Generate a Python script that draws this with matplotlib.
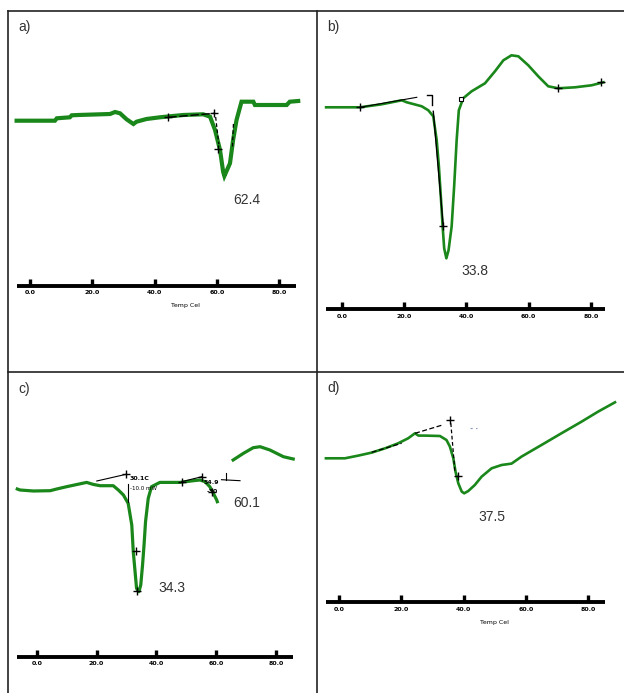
import matplotlib
matplotlib.use("Agg")
import matplotlib.pyplot as plt
from matplotlib.lines import Line2D

plt.rcParams['font.family'] = ['Liberation Sans', 'DejaVu Sans']

# DSC curves, temperature (C) vs heat flow (arbitrary units)
a_temp = [-4.3, 8.0, 8.6, 12.8, 13.4, 15.5, 25.7, 27.3, 28.9, 31.0, 33.2, 34.2, 37.4, 41.7, 49.2,
          55.6, 57.8, 59.4, 61.0, 62.0, 62.4, 64.2, 65.2, 66.3, 67.9, 71.7, 72.2, 82.4, 83.4, 86.1]
a_heat = [16.53, 16.53, 16.77, 16.87, 17.07, 17.10, 17.20, 17.40, 17.27, 16.67, 16.20, 16.43, 16.70, 16.87, 17.10,
          17.17, 16.93, 15.60, 13.60, 11.43, 11.00, 12.27, 14.60, 16.60, 18.43, 18.43, 18.10, 18.10, 18.43, 18.50]

b_temp = [-5.0, 5.9, 12.8, 19.3, 20.9, 25.7, 27.8, 29.4, 30.5, 31.2, 31.9, 32.4, 32.9, 33.6, 34.3, 35.3, 36.1,
          36.9, 37.6, 39.0, 41.7, 46.0, 49.2, 51.9, 54.5, 56.7, 59.9, 63.1, 66.3, 69.5, 74.9, 80.2, 84.0]
b_heat = [20.2, 20.2, 20.5, 20.9, 20.7, 20.3, 19.9, 19.3, 16.9, 14.3, 10.9, 8.3, 6.1, 5.1, 5.9, 8.3, 12.3,
          16.9, 19.9, 21.1, 21.8, 22.6, 23.8, 24.9, 25.4, 25.3, 24.4, 23.3, 22.3, 22.1, 22.2, 22.4, 22.7]

c_temp = [-6.5, -5.6, -1.1, 4.5, 6.7, 10.0, 16.7, 18.9, 21.2, 25.6, 27.3, 29.0, 30.6, 31.8, 32.3, 32.9, 33.4,
          34.2, 34.8, 35.4, 35.9, 36.4, 37.3, 38.4, 41.2, 47.9, 52.4, 54.6, 56.3, 57.9, 59.1, 60.2, 60.4]
c_heat = [16.77, 16.67, 16.57, 16.60, 16.77, 17.00, 17.43, 17.23, 17.10, 17.10, 16.67, 16.17, 15.33, 13.17, 10.50,
          8.50, 6.83, 6.50, 7.17, 9.17, 11.17, 13.50, 15.83, 17.00, 17.43, 17.43, 17.60, 17.67, 17.50, 17.00,
          16.33, 15.67, 15.50]
c2_temp = [65.7, 69.1, 72.4, 74.7, 78.0, 82.5, 85.8]
c2_heat = [19.67, 20.33, 20.90, 21.00, 20.67, 20.00, 19.77]

d_temp = [-4.2, 1.9, 6.2, 10.5, 14.8, 19.0, 22.2, 24.4, 25.5, 27.6, 32.4, 34.5, 35.6, 36.7, 37.4,
          38.3, 39.4, 40.2, 41.5, 43.6, 45.8, 49.0, 52.2, 55.4, 58.6, 65.0, 71.4, 77.9, 83.2, 88.6]
d_heat = [14.40, 14.40, 14.67, 14.97, 15.40, 15.90, 16.40, 16.90, 16.67, 16.67, 16.63, 16.23, 15.57, 14.40, 13.07,
          11.90, 11.07, 10.90, 11.13, 11.73, 12.57, 13.40, 13.73, 13.87, 14.57, 15.73, 16.90, 18.07, 19.07, 20.00]

# peak temperatures written next to the curves
a_peaks = ['62.4']
b_peaks = ['33.8']
c_peaks = ['34.3', '60.1']
d_peaks = ['37.5']

tick_vals = [0, 20, 40, 60, 80]
tick_labels = ['0.0', '20.0', '40.0', '60.0', '80.0']

W, H = 624, 693
GREEN = '#1a871a'
TXT = '#333333'
fig = plt.figure(figsize=(W / 100, H / 100), dpi=100)


def panel(cell, x0, ppd, axis_px, xspan):
    # cell = (left, top, right, bottom) in pixels; x0 = pixel of 0 C; ppd = pixels per degree
    l, t, r, b = cell
    ax = fig.add_axes([l / W, 1 - b / H, (r - l) / W, (b - t) / H])
    ax.set_xlim((l - x0) / ppd, (r - x0) / ppd)
    ax.set_ylim((axis_px - b) / 10, (axis_px - t) / 10)
    ax.patch.set_alpha(0)
    for s in ['top', 'left', 'right']:
        ax.spines[s].set_visible(False)
    sp = ax.spines['bottom']
    sp.set_position(('data', 0))
    sp.set_bounds(*xspan)
    sp.set_linewidth(2.8)
    sp.set_capstyle('butt')
    ax.set_yticks([])
    ax.set_xticks(tick_vals)
    ax.set_xticklabels(tick_labels, fontsize=4.5, fontweight='bold', family='DejaVu Sans')
    ax.tick_params(axis='x', direction='in', length=5, width=2.4, pad=3.2)
    return ax


def marks(ax, xs, ys):
    ax.plot(xs, ys, ls='none', marker='+', ms=6, mew=1.0, color='black', zorder=4)


# a)
ax = panel((8, 11, 317, 372), 30, 3.115, 286, (-4.3, 85.4))
ax.plot(a_temp, a_heat, color=GREEN, lw=3.0, solid_joinstyle='miter')
ax.plot([44.4, 59.2], [16.87, 17.27], color='black', lw=1.0, ls=(0, (6, 2)))
ax.plot([59.6, 60.6], [16.9, 14.2], color='black', lw=0.9, ls=(0, (3, 2)))
ax.plot([65.3, 65.0], [16.2, 13.9], color='black', lw=0.9, ls=(0, (3, 2)))
marks(ax, [44.4, 59.2, 60.4], [16.87, 17.3, 13.7])
ax.text(69.5, 8.6, a_peaks[0], fontsize=10, ha='center', va='center', color=TXT)
ax.text(50, -2.0, 'Temp Cel', fontsize=4.5, ha='center', va='center', family='DejaVu Sans')

# b)
ax = panel((317, 11, 624, 372), 341.7, 3.115, 309.3, (-5.0, 84.5))
ax.plot(b_temp, b_heat, color=GREEN, lw=1.9)
ax.plot([5.9, 24.1], [20.2, 21.2], color='black', lw=0.8)
ax.plot([27.3, 29.1, 29.1], [21.4, 21.4, 20.4], color='black', lw=1.0)
ax.plot([29.4, 32.6], [19.8, 8.3], color='black', lw=1.0)
ax.plot([38.3], [21.0], ls='none', marker='s', ms=3, mfc='white', mec='black', mew=0.8)
marks(ax, [5.9, 32.4, 69.3, 83.4], [20.2, 8.3, 22.1, 22.7])
ax.text(42.8, 3.8, b_peaks[0], fontsize=10, ha='center', va='center', color=TXT)

# c)
ax = panel((8, 372, 317, 693), 36.7, 2.99, 656.7, (-6.5, 85.8))
ax.plot(c_temp, c_heat, color=GREEN, lw=2.3)
ax.plot(c2_temp, c2_heat, color=GREEN, lw=2.3)
ax.plot([20.1, 29.9], [17.57, 18.24], color='black', lw=0.8)
ax.plot([30.6, 30.6], [17.3, 15.5], color='black', lw=0.8)
ax.plot([48.5, 55.2], [17.5, 18.0], color='black', lw=0.8)
ax.plot([61.8, 68.0], [17.7, 17.6], color='black', lw=0.8)
ax.plot([63.3, 63.3], [18.4, 17.7], color='black', lw=0.8)
marks(ax, [29.9, 33.2, 33.4, 48.5, 55.2, 58.5], [18.24, 10.6, 6.6, 17.5, 18.0, 16.5])
ax.text(31.2, 17.8, '30.1C', fontsize=4.5, fontweight='bold', va='center', family='DejaVu Sans')
ax.text(31.2, 16.8, '-10.0 mW', fontsize=4, va='center', family='DejaVu Sans')
ax.text(55.9, 17.4, '54.9', fontsize=4.5, fontweight='bold', va='center', family='DejaVu Sans')
ax.text(56.8, 16.5, '-30', fontsize=4.5, fontweight='bold', va='center', family='DejaVu Sans')
ax.text(45.1, 6.9, c_peaks[0], fontsize=10, ha='center', va='center', color=TXT)
ax.text(70.2, 15.4, c_peaks[1], fontsize=10, ha='center', va='center', color=TXT)

# d)
ax = panel((317, 372, 624, 693), 339, 3.115, 602.3, (-4.2, 85.3))
ax.plot(d_temp, d_heat, color=GREEN, lw=1.9)
ax.plot([10.5, 20.1], [15.0, 15.9], color='black', lw=0.9, ls=(0, (4, 2)))
ax.plot([24.4, 32.9], [16.9, 17.7], color='black', lw=0.9, ls=(0, (4, 2)))
ax.plot([35.9, 37.2], [17.9, 13.1], color='black', lw=0.9, ls=(0, (3, 2)))
ax.plot([42.0, 44.2], [17.4, 17.4], color='#8899bb', lw=0.8, ls=(0, (2, 3)))
marks(ax, [35.6, 38.1], [18.2, 12.6])
ax.text(49.0, 8.5, d_peaks[0], fontsize=10, ha='center', va='center', color=TXT)
ax.text(50, -2.04, 'Temp Cel', fontsize=4.5, ha='center', va='center', family='DejaVu Sans')

# table grid around the four panels
for x1, y1, x2, y2 in [(8, 11, 624, 11), (8, 372, 624, 372), (8, 11, 8, 693), (317, 11, 317, 693)]:
    fig.add_artist(Line2D([x1 / W, x2 / W], [1 - y1 / H, 1 - y2 / H], color='#222222', lw=1.2))

for lab, x, y in [('a)', 18, 27), ('b)', 327, 27), ('c)', 18, 389), ('d)', 327, 388)]:
    fig.text(x / W, 1 - y / H, lab, fontsize=10, ha='left', va='center', color=TXT)

fig.savefig('out.png', dpi=100)
